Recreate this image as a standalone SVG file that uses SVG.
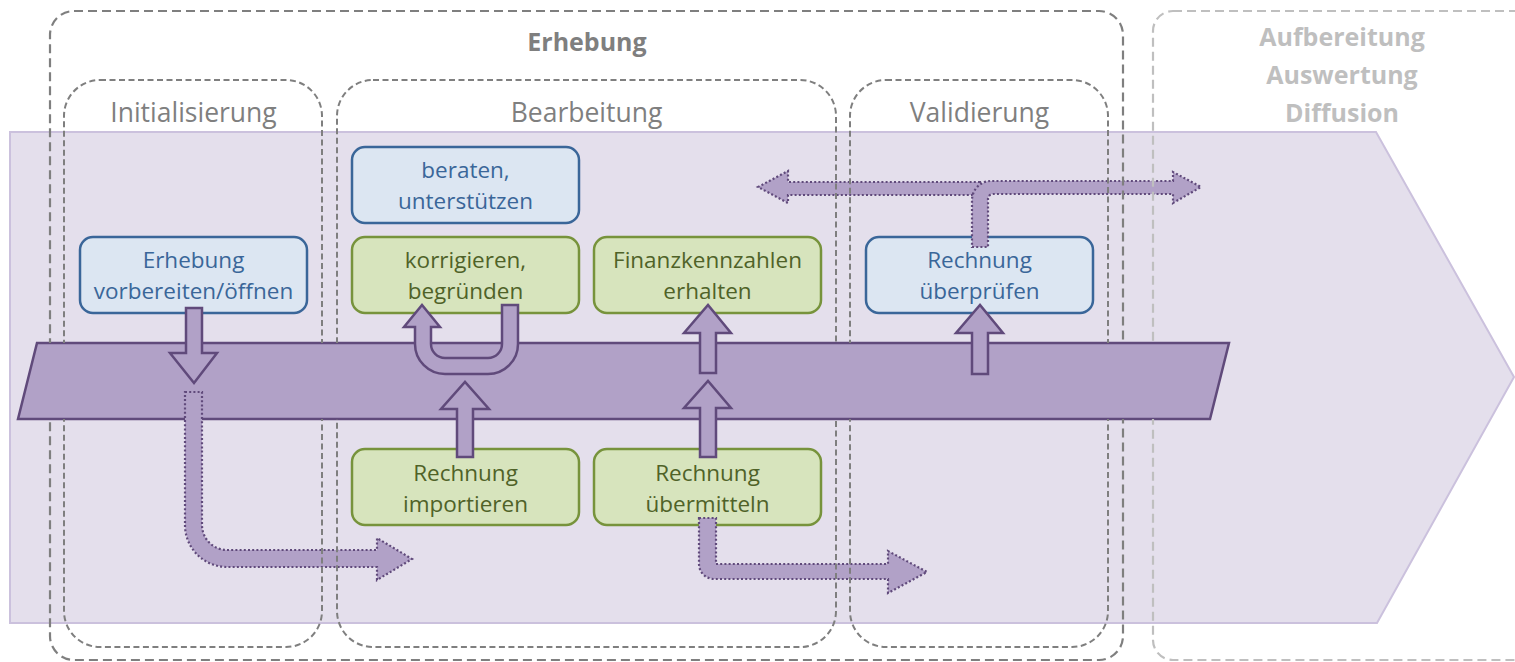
<svg xmlns="http://www.w3.org/2000/svg" width="1515" height="662" viewBox="0 0 1515 662">
<defs>
<style>
.bg{fill:#E4DFEC;stroke:#CBC1DD;stroke-width:2}
.band{fill:#B1A1C7;stroke:#604A7B;stroke-width:2.5;stroke-linejoin:miter}
.blue rect{fill:#DCE6F2;stroke:#3A6699;stroke-width:2.5}
.blue text{fill:#3A6699}
.green rect{fill:#D7E4BD;stroke:#77933C;stroke-width:2.5}
.green text{fill:#4F6228}
.lbl{font-family:"Open Sans","Liberation Sans",sans-serif;font-size:22.5px;text-anchor:middle}
.solid{fill:#B1A1C7;stroke:#604A7B;stroke-width:2.5;stroke-linejoin:miter}
.dotted{fill:#B1A1C7;stroke:#604A7B;stroke-width:2.2;stroke-dasharray:2 2.2;stroke-linejoin:miter}
.cont{fill:none;stroke:#7F7F7F;stroke-width:2;stroke-dasharray:6 3.5}
.outer{fill:none;stroke:#7F7F7F;stroke-width:2.2;stroke-dasharray:9 5}
.later{fill:none;stroke:#BFBFBF;stroke-width:2.2;stroke-dasharray:9 5}
.title{font-family:"Open Sans","Liberation Sans",sans-serif;font-size:26.5px;fill:#7F7F7F;text-anchor:middle}
.btitle{font-family:"Open Sans","Liberation Sans",sans-serif;font-size:25px;font-weight:bold;text-anchor:middle}
</style>
<mask id="noband" maskUnits="userSpaceOnUse" x="0" y="0" width="1515" height="662">
<rect x="0" y="0" width="1515" height="662" fill="#fff"/>
<polygon points="37,343 1229,343 1210,419 18,419" fill="#000"/>
</mask>
</defs>
<rect x="0" y="0" width="1515" height="662" fill="#fff"/>

<g id="process-chevron">
<polygon class="bg" points="10,132 1376,132 1514,377 1377,623 10,623"/>
</g>
<g id="data-band">
<polygon class="band" points="37,343 1229,343 1210,419 18,419"/>
</g>

<g id="node-erhebung-vorbereiten" class="blue">
<rect x="80" y="237" width="227" height="76" rx="13"/>
<text class="lbl" x="193.5" y="268">Erhebung</text>
<text class="lbl" x="193.5" y="299">vorbereiten/öffnen</text>
</g>
<g id="node-beraten" class="blue">
<rect x="352" y="147" width="227" height="76" rx="13"/>
<text class="lbl" x="465.5" y="178">beraten,</text>
<text class="lbl" x="465.5" y="209">unterstützen</text>
</g>
<g id="node-korrigieren" class="green">
<rect x="352" y="237" width="227" height="76" rx="13"/>
<text class="lbl" x="465.5" y="268">korrigieren,</text>
<text class="lbl" x="465.5" y="299">begründen</text>
</g>
<g id="node-finanzkennzahlen" class="green">
<rect x="594" y="237" width="227" height="76" rx="13"/>
<text class="lbl" x="707.5" y="268">Finanzkennzahlen</text>
<text class="lbl" x="707.5" y="299">erhalten</text>
</g>
<g id="node-rechnung-ueberpruefen" class="blue">
<rect x="866" y="237" width="227" height="76" rx="13"/>
<text class="lbl" x="979.5" y="268">Rechnung</text>
<text class="lbl" x="979.5" y="299">überprüfen</text>
</g>
<g id="node-rechnung-importieren" class="green">
<rect x="352" y="449" width="227" height="76" rx="13"/>
<text class="lbl" x="465.5" y="481">Rechnung</text>
<text class="lbl" x="465.5" y="512">importieren</text>
</g>
<g id="node-rechnung-uebermitteln" class="green">
<rect x="594" y="449" width="227" height="76" rx="13"/>
<text class="lbl" x="707.5" y="481">Rechnung</text>
<text class="lbl" x="707.5" y="512">übermitteln</text>
</g>

<g id="connectors">
<path class="solid" d="M186 308 L202 308 L202 353 L217 353 L194 383 L170 353 L186 353 Z"/>
<path class="solid" d="M502 305 L518 305 L518 344 A30 30 0 0 1 488 374 L445 374 A30 30 0 0 1 415 344 L415 327 L404 327 L422 305 L440 327 L431 327 L431 344 A14 14 0 0 0 445 358 L488 358 A14 14 0 0 0 502 344 Z"/>
<path class="solid" d="M457 457 L473 457 L473 409 L489 409 L465 382 L441 409 L457 409 Z"/>
<path class="solid" d="M700 373 L716 373 L716 333 L731 333 L708 305 L684 333 L700 333 Z"/>
<path class="solid" d="M700 457 L716 457 L716 408 L731 408 L708 381 L684 408 L700 408 Z"/>
<path class="solid" d="M972 374 L988 374 L988 333 L1003 333 L980 305 L956 333 L972 333 Z"/>
<path class="dotted" d="M185 392 L202 392 L202 525 A25 25 0 0 0 227 550 L377 550 L377 538 L412 559 L377 580 L377 567 L227 567 A42 42 0 0 1 185 525 Z"/>
<path class="dotted" d="M699 518 L716 518 L716 564 L888 564 L888 551 L927 572 L888 593 L888 579 L714 579 A15 15 0 0 1 699 564 Z"/>
<path class="dotted" d="M980 182 L788 182 L788 171 L758 187 L788 203 L788 195 L980 195 Z"/>
<path class="dotted" d="M972 247 L988 247 L988 199 A5 5 0 0 1 993 194 L1173 194 L1173 203 L1201 187 L1173 172 L1173 181 L991 181 A19 19 0 0 0 972 200 Z"/>
</g>

<g id="containers" mask="url(#noband)">
<rect id="erhebung" class="outer" x="50" y="11" width="1073" height="649" rx="24"/>
<rect id="initialisierung" class="cont" x="64" y="80" width="258" height="567" rx="36"/>
<rect id="bearbeitung" class="cont" x="337" y="80" width="499" height="567" rx="36"/>
<rect id="validierung" class="cont" x="850" y="80" width="258" height="567" rx="36"/>
<rect id="aufbereitung" class="later" x="1153" y="11" width="400" height="649" rx="20"/>
</g>

<g id="titles">
<text class="btitle" x="587" y="51" fill="#7F7F7F">Erhebung</text>
<text class="title" x="193.5" y="122">Initialisierung</text>
<text class="title" x="586.5" y="122">Bearbeitung</text>
<text class="title" x="979.5" y="122">Validierung</text>
<text class="btitle" x="1342" y="46" fill="#BFBFBF">Aufbereitung</text>
<text class="btitle" x="1342" y="84" fill="#BFBFBF">Auswertung</text>
<text class="btitle" x="1342" y="122" fill="#BFBFBF">Diffusion</text>
</g>
</svg>
